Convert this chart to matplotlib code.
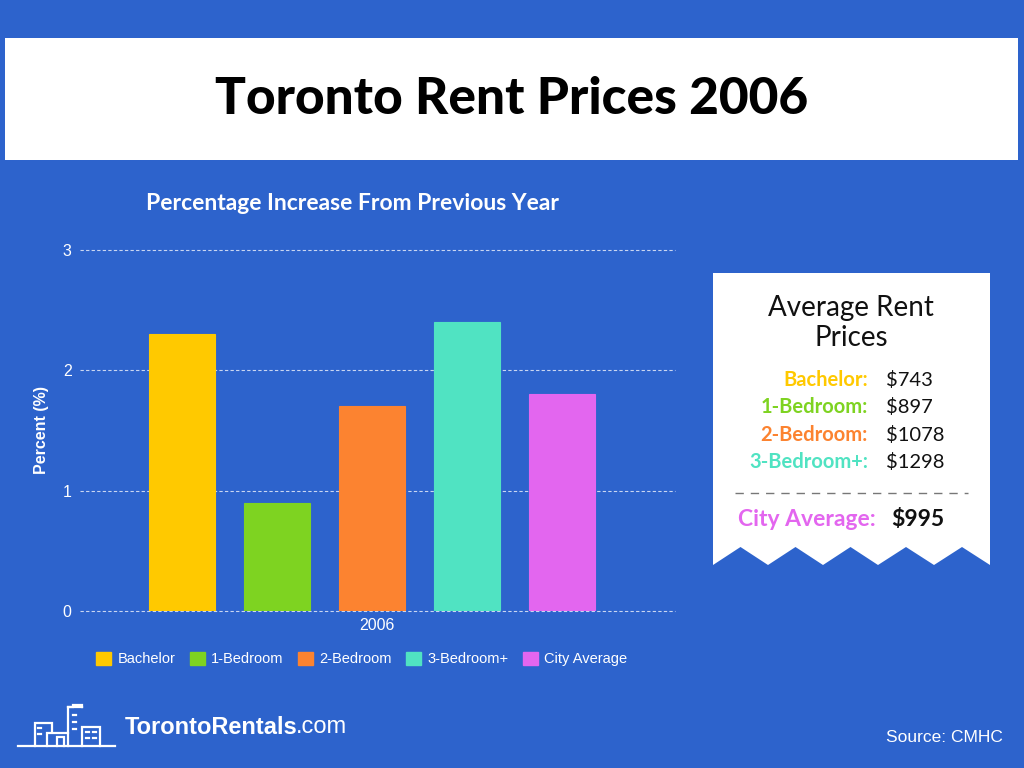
import matplotlib
matplotlib.use("Agg")
import matplotlib.pyplot as plt
from matplotlib.patches import Rectangle, Polygon
from matplotlib.lines import Line2D

# data
categories = ["Bachelor", "1-Bedroom", "2-Bedroom", "3-Bedroom+", "City Average"]
pct_increase = [2.3, 0.9, 1.7, 2.4, 1.8]
colors = ["#FFC900", "#7ED321", "#FC8330", "#50E3C2", "#E366EF"]
year_label = "2006"
yticks = [0, 1, 2, 3]

rent_labels = ["Bachelor:", "1-Bedroom:", "2-Bedroom:", "3-Bedroom+:"]
rent_values = ["$743", "$897", "$1078", "$1298"]
city_avg_label = "City Average:"
city_avg_value = "$995"

BG = "#2D63CC"
W, H = 1024, 768


def px(x, y):
    # pixel (from top-left) -> figure fraction
    return x / W, 1 - y / H


fig = plt.figure(figsize=(W / 100, H / 100), dpi=100, facecolor=BG)
renderer = fig.canvas.get_renderer()

# title banner
x0, y0 = px(5, 160)
fig.patches.append(Rectangle((x0, y0), 1013 / W, 122 / H, transform=fig.transFigure,
                             facecolor="white", edgecolor="none"))
fig.text(*px(512, 99), "Toronto Rent Prices 2006", ha="center", va="center",
         fontsize=37, fontweight="black", family="Lato", color="black")

# bar chart
l, b = px(80, 611)
r, t = px(675, 250)
ax = fig.add_axes([l, b, r - l, t - b])
ax.set_facecolor(BG)
xs = list(range(len(categories)))
ax.bar(xs, pct_increase, width=0.695, color=colors, edgecolor=colors, linewidth=0.8,
       label=categories, zorder=3)
ax.set_xlim(-1.074, 5.189)
ax.set_ylim(0, 3)
ax.set_yticks(yticks)
ax.set_yticklabels([str(v) for v in yticks], color="white", fontsize=11.5, family="Liberation Sans")
ax.set_xticks([2.05])
ax.set_xticklabels([year_label], color="white", fontsize=11.5, family="Liberation Sans")
ax.tick_params(length=0, pad=6)
ax.tick_params(axis="x", pad=5)
for s in ax.spines.values():
    s.set_visible(False)
for v in yticks:
    ax.axhline(v, color="#c9d6f2", linestyle=(0, (3, 2)), linewidth=0.8, zorder=0, clip_on=False)
ax.set_ylabel("Percent (%)", color="white", fontsize=11.5, fontweight="bold",
              family="Liberation Sans", labelpad=10)

fig.text(*px(352, 204), "Percentage Increase From Previous Year", ha="center", va="center",
         fontsize=16.5, fontweight="bold", family="Lato", color="white")

handles = [Rectangle((0, 0), 1, 1, facecolor=c, edgecolor=c) for c in colors]
leg = fig.legend(handles, categories, loc="center", bbox_to_anchor=px(362, 659), ncol=5,
                 frameon=False, handlelength=1.0, handleheight=1.0, handletextpad=0.45,
                 columnspacing=1.0, prop={"family": "Liberation Sans", "size": 10.5})
for txt in leg.get_texts():
    txt.set_color("white")

# receipt panel with zigzag bottom
teeth = [713, 768, 823, 878, 934, 990]
pts = [px(713, 273), px(990, 273)]
for i in range(len(teeth) - 1, 0, -1):
    pts.append(px(teeth[i], 565))
    pts.append(px((teeth[i] + teeth[i - 1]) / 2, 547))
pts.append(px(713, 565))
fig.patches.append(Polygon(pts, closed=True, transform=fig.transFigure,
                           facecolor="white", edgecolor="none"))

fig.text(*px(851, 323), "Average Rent\nPrices", ha="center", va="center", fontsize=20,
         family="Lato", color="#111111", linespacing=1.22)
row_y = [380, 407, 435, 462]
for lab, val, c, y in zip(rent_labels, rent_values, colors, row_y):
    fig.text(*px(868, y), lab, ha="right", va="center", fontsize=14.5, fontweight="bold",
             family="Lato", color=c)
    fig.text(*px(886, y), val, ha="left", va="center", fontsize=14.5,
             family="Lato", color="#111111")

lx0, ly = px(735, 493)
lx1, _ = px(968, 493)
fig.lines.append(Line2D([lx0, lx1], [ly, ly], transform=fig.transFigure, color="#777777",
                        linestyle=(0, (6, 5)), linewidth=1.0))
fig.text(*px(876, 520), city_avg_label, ha="right", va="center", fontsize=16.5,
         fontweight="bold", family="Lato", color=colors[4])
fig.text(*px(891, 520), city_avg_value, ha="left", va="center", fontsize=16.5,
         fontweight="bold", family="Lato", color="#111111")


# footer logo
def fline(xs_, ys_):
    p = [px(a, b_) for a, b_ in zip(xs_, ys_)]
    fig.lines.append(Line2D([q[0] for q in p], [q[1] for q in p], transform=fig.transFigure,
                            color="white", linewidth=1.6, solid_joinstyle="miter"))


fline([18, 115], [746, 746])
fline([35, 35, 52, 52], [746, 723, 723, 732])
fline([47, 47, 68], [746, 733, 733])
fline([68, 68, 73, 73, 82, 82], [746, 707, 707, 705, 705, 707])
fline([82, 82, 100, 100], [746, 727, 727, 746])
fline([68, 82], [707, 707])
fline([57, 57, 64, 64], [746, 737, 737, 746])
for (a, b_) in [(38, 728), (38, 734), (73, 715), (73, 722), (73, 729), (86, 732), (86, 738), (93, 732), (93, 738)]:
    fline([a, a + 3], [b_, b_])

brand = fig.text(*px(125, 727), "TorontoRentals", ha="left", va="center", fontsize=17,
                 fontweight="bold", family="Liberation Sans", color="white")
bb = brand.get_window_extent(renderer)
fig.text(bb.x1 / W - 2 / W, 1 - 727 / H, ".com", ha="left", va="center", fontsize=17,
         family="Liberation Sans", color="white")
fig.text(*px(1003, 738), "Source: CMHC", ha="right", va="center", fontsize=12.5,
         family="Liberation Sans", color="white")

fig.savefig("out.png", dpi=100, facecolor=BG)
